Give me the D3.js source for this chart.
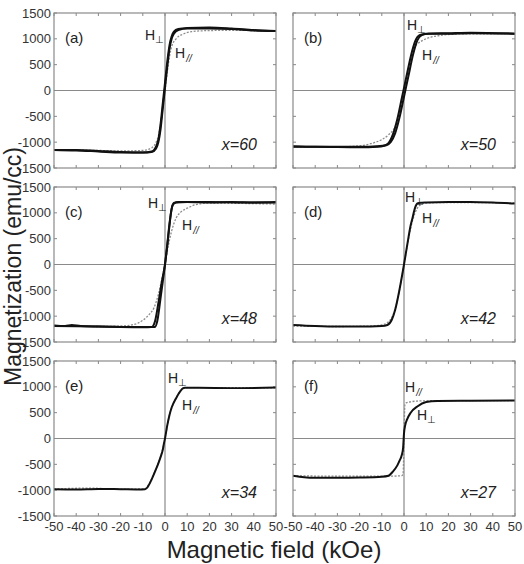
<!DOCTYPE html>
<html>
<head>
<meta charset="utf-8">
<script src="https://cdn.jsdelivr.net/npm/d3@7"></script>
<style>
  body { margin: 0; background: #fff; }
  text { font-family: "Liberation Sans", Arial, sans-serif; }
</style>
</head>
<body>
<div id="root"></div>
<script>
const w = 524, h = 564
const pw = 222, ph = 155
const colX = [54, 293], rowY = [13, 187, 361]

// data: [field kOe, magnetization emu/cc]
const panelNames = ["(a)", "(b)", "(c)", "(d)", "(e)", "(f)"]
const compositions = ["x=60", "x=50", "x=48", "x=42", "x=34", "x=27"]
const xTicks = [-50, -40, -30, -20, -10, 0, 10, 20, 30, 40, 50]
const yTicks = [-1500, -1000, -500, 0, 500, 1000, 1500]

const perpA = [
  [[-50,-1150],[-40,-1160],[-30,-1180],[-20,-1200],[-10,-1200],[-6,-1190],[-4,-1120],[-3,-1000],[-2,-750],[-1,-350],[0,50],[1,450],[2,800],[3,1000],[4,1100],[6,1170],[10,1200],[20,1200],[30,1190],[40,1160],[50,1150]],
  [[-50,-1150],[-40,-1150],[-30,-1170],[-20,-1190],[-10,-1200],[-6,-1180],[-4,-1080],[-3,-950],[-2,-650],[-1,-250],[0,150],[1,550],[2,870],[3,1050],[4,1140],[6,1190],[10,1210],[20,1220],[30,1200],[40,1170],[50,1150]]
]
const paraA = [[-50,-1150],[-30,-1160],[-20,-1170],[-10,-1160],[-6,-1110],[-4,-1000],[-3,-880],[-2,-650],[-1,-350],[0,0],[1,350],[2,650],[3,850],[5,1000],[8,1090],[12,1140],[20,1160],[30,1165],[50,1150]]

const perpB = [
  [[-50,-1090],[-40,-1090],[-20,-1100],[-12,-1090],[-9,-1070],[-7,-1020],[-5,-850],[-3,-550],[-1,-150],[1,250],[3,650],[5,950],[7,1070],[10,1100],[20,1110],[30,1120],[50,1100]],
  [[-50,-1080],[-40,-1090],[-20,-1090],[-12,-1080],[-8,-1060],[-6,-1000],[-4,-830],[-2,-520],[0,-120],[2,280],[4,680],[6,970],[8,1070],[11,1100],[20,1100],[30,1110],[50,1100]]
]
const paraB = [[-50,-1090],[-30,-1090],[-20,-1070],[-15,-1030],[-10,-950],[-7,-860],[-5,-770],[-4,-700],[-2,-420],[0,-20],[2,420],[4,790],[6,900],[8,960],[12,1030],[18,1075],[25,1095],[50,1100]]

const perpC = [
  [[-50,-1180],[-45,-1190],[-42,-1170],[-38,-1190],[-30,-1200],[-20,-1210],[-10,-1215],[-6,-1210],[-5.5,-1200],[-4.5,-1100],[-3,-750],[-1.5,-350],[0,0],[1,350],[2,750],[2.7,1000],[3.5,1150],[5,1200],[10,1210],[20,1200],[30,1210],[40,1200],[50,1200]],
  [[-50,-1190],[-30,-1200],[-10,-1210],[-4.5,-1210],[-3.5,-1100],[-2,-650],[-1,-330],[0,0],[1,380],[2,780],[3,1080],[4,1190],[6,1210],[20,1210],[35,1200],[50,1210]]
]
const paraC = [[-50,-1180],[-30,-1200],[-20,-1190],[-15,-1170],[-10,-1080],[-7,-960],[-5,-840],[-3,-580],[-1,-200],[0,0],[1,250],[3,650],[5,900],[7,1010],[10,1090],[14,1160],[20,1190],[30,1185],[50,1170]]

const perpD = [
  [[-50,-1170],[-40,-1190],[-30,-1200],[-20,-1200],[-10,-1190],[-7.5,-1170],[-5.5,-1070],[-4,-880],[-2,-480],[0,0],[2,520],[3,760],[3.6,860],[5,1100],[6,1180],[8,1195],[10,1200],[20,1210],[30,1210],[40,1200],[50,1180]]
]
const paraD = [[-50,-1190],[-30,-1200],[-15,-1190],[-10,-1170],[-7,-1110],[-5,-980],[-3,-700],[-1,-250],[0,0],[1,250],[3,700],[5,1000],[7,1140],[10,1190],[20,1200],[50,1190]]

const perpE = [
  [[-50,-980],[-40,-985],[-30,-975],[-20,-980],[-12,-985],[-9,-980],[-8,-950],[-6,-790],[-4,-590],[-3,-480],[-2,-360],[-1,-220],[-0.4,-80],[0,0],[1,250],[2,450],[3,600],[5,780],[7,920],[8,970],[9,980],[15,980],[30,975],[50,985]]
]
const paraE = [[-50,-980],[-35,-960],[-20,-980],[-9,-975],[-8,-930],[-6,-780],[-4,-580],[-2,-350],[0,0],[2,450],[4,700],[6,860],[8,965],[10,985],[50,980]]

const perpF = [
  [[-50,-720],[-45,-750],[-40,-760],[-30,-760],[-20,-755],[-10,-740],[-7,-720],[-5,-640],[-3,-520],[-2,-430],[-1,-320],[-0.4,-180],[0,100],[0.5,250],[1.4,370],[3,500],[6,620],[10,705],[15,725],[30,730],[50,735]]
]
const paraF = [[-50,-720],[-30,-730],[-10,-730],[-3,-725],[-1,-720],[-0.4,-680],[0,0],[0.4,650],[1,690],[3,710],[6,725],[10,730],[50,735]]

const perpCurves = [perpA, perpB, perpC, perpD, perpE, perpF]
const paraCurves = [paraA, paraB, paraC, paraD, paraE, paraF]

// label positions inside each panel [x, y] (H-perp, H-para)
const hPerpPos = [[91,27],[114,17],[94,21],[112,15],[114,22],[124,59]]
const hParaPos = [[121,45],[129,47],[128,43],[129,36],[128,49],[112,31]]

//scales
const xscale = d3.scaleLinear().domain([-50, 50]).range([0, pw])
const yscale = d3.scaleLinear().domain([-1500, 1500]).range([ph, 0])

const line = d3.line()
  .x(d => xscale(d[0]))
  .y(d => yscale(d[1]))
  .curve(d3.curveMonotoneX)

const svg = d3.select("#root").append("svg")
  .attr("width", w)
  .attr("height", h)

function drawPanel(i) {
  const col = i % 2, row = Math.floor(i / 2)
  const g = svg.append("g").attr("transform", `translate(${colX[col]},${rowY[row]})`)

  // zero lines
  g.append("line").attr("x1", 0).attr("x2", pw).attr("y1", yscale(0)).attr("y2", yscale(0))
    .attr("stroke", "#8a8a8a").attr("stroke-width", 1.2)
  g.append("line").attr("x1", xscale(0)).attr("x2", xscale(0)).attr("y1", 0).attr("y2", ph)
    .attr("stroke", "#8a8a8a").attr("stroke-width", 1.2)

  // inward ticks on all four sides
  const tickLen = 3
  xTicks.forEach(t => {
    g.append("line").attr("x1", xscale(t)).attr("x2", xscale(t)).attr("y1", ph).attr("y2", ph - tickLen).attr("stroke", "#888")
    g.append("line").attr("x1", xscale(t)).attr("x2", xscale(t)).attr("y1", 0).attr("y2", tickLen).attr("stroke", "#888")
  })
  yTicks.forEach(t => {
    g.append("line").attr("x1", 0).attr("x2", tickLen).attr("y1", yscale(t)).attr("y2", yscale(t)).attr("stroke", "#888")
    g.append("line").attr("x1", pw).attr("x2", pw - tickLen).attr("y1", yscale(t)).attr("y2", yscale(t)).attr("stroke", "#888")
  })

  // curves
  g.append("path").datum(paraCurves[i])
    .attr("d", line).attr("fill", "none")
    .attr("stroke", "#8c8c8c").attr("stroke-width", 1.3).attr("stroke-dasharray", "2,1.5")
  perpCurves[i].forEach(branch => {
    g.append("path").datum(branch)
      .attr("d", line).attr("fill", "none")
      .attr("stroke", "#111").attr("stroke-width", 2)
  })

  // frame
  g.append("rect").attr("width", pw).attr("height", ph)
    .attr("fill", "none").attr("stroke", "#8a8a8a").attr("stroke-width", 1.2)

  // y tick labels for left column
  if (col == 0) {
    g.selectAll("text.ytick").data(yTicks).enter().append("text")
      .attr("class", "ytick")
      .attr("x", -3).attr("y", d => yscale(d) + 4.5)
      .attr("text-anchor", "end").attr("font-size", 13).attr("fill", "#333")
      .text(d => d)
  }
  // x tick labels for bottom row
  if (row == 2) {
    g.selectAll("text.xtick").data(xTicks).enter().append("text")
      .attr("class", "xtick")
      .attr("x", d => xscale(d)).attr("y", ph + 15)
      .attr("text-anchor", "middle").attr("font-size", 13).attr("fill", "#333")
      .text(d => d)
  }

  // panel letter and composition
  g.append("text").attr("x", 11).attr("y", 30).attr("font-size", 15).attr("fill", "#222").text(panelNames[i])
  g.append("text").attr("x", 203).attr("y", 137).attr("text-anchor", "end")
    .attr("font-size", 16).attr("font-style", "italic").attr("fill", "#222").text(compositions[i])

  // H labels
  const hp = g.append("text").attr("x", hPerpPos[i][0]).attr("y", hPerpPos[i][1]).attr("font-size", 14).attr("fill", "#222")
  hp.append("tspan").text("H")
  hp.append("tspan").attr("dy", 3).attr("font-size", 10).text("⊥")
  const hl = g.append("text").attr("x", hParaPos[i][0]).attr("y", hParaPos[i][1]).attr("font-size", 14).attr("fill", "#222")
  hl.append("tspan").text("H")
  hl.append("tspan").attr("dy", 4).attr("dx", 1).attr("font-size", 10).attr("font-style", "italic").text("//")
}

d3.range(6).forEach(drawPanel)

// axis titles
svg.append("text")
  .attr("transform", `translate(21,${(rowY[0] + rowY[2] + ph) / 2 + 2}) rotate(-90)`)
  .attr("text-anchor", "middle").attr("font-size", 23).attr("fill", "#222")
  .text("Magnetization (emu/cc)")
svg.append("text")
  .attr("x", 274).attr("y", 558)
  .attr("text-anchor", "middle").attr("font-size", 24).attr("fill", "#222")
  .text("Magnetic field (kOe)")
</script>
</body>
</html>
